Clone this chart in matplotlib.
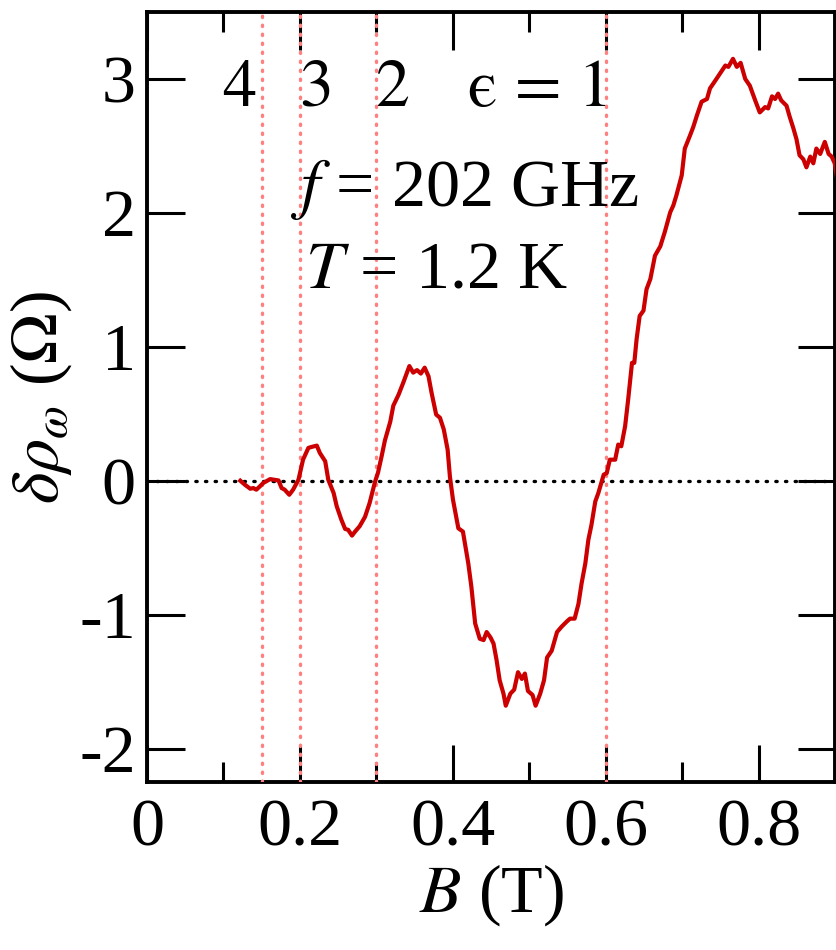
import matplotlib
matplotlib.use("Agg")
import matplotlib.pyplot as plt
from matplotlib.ticker import MultipleLocator

plt.rcParams["font.family"] = ["Liberation Serif", "DejaVu Serif"]
plt.rcParams["mathtext.fontset"] = "stix"

# Magnetic field (T) and photoresistance signal (Ohm)
field_T = [
    0.122, 0.128, 0.135, 0.139, 0.143, 0.148, 0.152, 0.161, 0.167, 0.172,
    0.176, 0.180, 0.186, 0.191, 0.198, 0.204, 0.211, 0.215, 0.222, 0.226,
    0.233, 0.237, 0.244, 0.248, 0.254, 0.259, 0.263, 0.268, 0.272, 0.278,
    0.285, 0.291, 0.298, 0.302, 0.307, 0.311, 0.318, 0.322, 0.329, 0.335,
    0.339, 0.343, 0.348, 0.353, 0.358, 0.363, 0.368, 0.372, 0.378, 0.383,
    0.388, 0.393, 0.396, 0.400, 0.407, 0.413, 0.420, 0.424, 0.429, 0.435,
    0.440, 0.444, 0.449, 0.453, 0.457, 0.461, 0.466, 0.469, 0.475, 0.480,
    0.485, 0.490, 0.494, 0.498, 0.504, 0.508, 0.514, 0.519, 0.523, 0.529,
    0.536, 0.542, 0.549, 0.553, 0.559, 0.564, 0.568, 0.573, 0.577, 0.581,
    0.586, 0.590, 0.597, 0.601, 0.605, 0.612, 0.616, 0.620, 0.625, 0.629,
    0.634, 0.637, 0.640, 0.644, 0.649, 0.653, 0.658, 0.664, 0.671, 0.677,
    0.684, 0.688, 0.692, 0.699, 0.703, 0.710, 0.714, 0.719, 0.725, 0.732,
    0.736, 0.742, 0.749, 0.756, 0.760, 0.766, 0.771, 0.776, 0.782, 0.788,
    0.795, 0.801, 0.808, 0.812, 0.817, 0.821, 0.825, 0.829, 0.836, 0.840,
    0.845, 0.849, 0.853, 0.858, 0.862, 0.867, 0.871, 0.875, 0.880, 0.886,
    0.891, 0.895, 0.899, 0.905,
]
delta_rho = [
    0.000, -0.030, -0.060, -0.055, -0.067, -0.040, -0.017, 0.012, 0.007, 0.002,
    -0.055, -0.067, -0.105, -0.067, 0.007, 0.157, 0.245, 0.252, 0.262, 0.207,
    0.145, 0.007, -0.092, -0.190, -0.290, -0.360, -0.367, -0.410, -0.380, -0.340,
    -0.270, -0.167, -0.010, 0.060, 0.190, 0.300, 0.440, 0.560, 0.644, 0.732,
    0.794, 0.856, 0.807, 0.826, 0.800, 0.844, 0.780, 0.657, 0.494, 0.470,
    0.382, 0.232, 0.030, -0.142, -0.355, -0.380, -0.617, -0.790, -1.066, -1.180,
    -1.190, -1.130, -1.170, -1.216, -1.340, -1.490, -1.590, -1.680, -1.590, -1.560,
    -1.430, -1.480, -1.440, -1.570, -1.600, -1.680, -1.590, -1.490, -1.320, -1.270,
    -1.130, -1.090, -1.050, -1.030, -1.030, -0.920, -0.770, -0.617, -0.440, -0.330,
    -0.155, -0.092, 0.045, 0.057, 0.157, 0.157, 0.270, 0.257, 0.407, 0.607,
    0.880, 0.880, 1.056, 1.230, 1.270, 1.430, 1.506, 1.680, 1.750, 1.860,
    2.005, 2.055, 2.130, 2.280, 2.480, 2.580, 2.640, 2.730, 2.830, 2.850,
    2.930, 2.980, 3.040, 3.100, 3.090, 3.150, 3.090, 3.120, 3.000, 2.950,
    2.840, 2.750, 2.790, 2.780, 2.870, 2.850, 2.890, 2.840, 2.800, 2.720,
    2.630, 2.550, 2.430, 2.400, 2.340, 2.420, 2.370, 2.480, 2.440, 2.530,
    2.440, 2.420, 2.370, 2.150,
]

# Cyclotron harmonics B = B1 / epsilon
harmonic_B = [0.15, 0.2, 0.3, 0.6]
harmonic_labels = ["4", "3", "2", "\u03f5 = 1"]
harmonic_label_x = [0.120, 0.221, 0.321, 0.514]

x_ticks = [0, 0.2, 0.4, 0.6, 0.8]
x_tick_labels = ["0", "0.2", "0.4", "0.6", "0.8"]
y_ticks = [-2, -1, 0, 1, 2, 3]
y_tick_labels = ["-2", "-1", "0", "1", "2", "3"]

fig = plt.figure(figsize=(8.36, 9.5), dpi=100)
ax = fig.add_axes([0.1758, 0.1768, 0.8236, 0.8106])

ax.axhline(0, color="black", lw=2.4, linestyle=(0, (0.4, 2.5)),
           dash_capstyle="round", zorder=1)
for b in harmonic_B:
    ax.axvline(b, color="#ff8080", lw=2.4, linestyle=(0, (0.4, 2.3)),
               dash_capstyle="round", zorder=3)

ax.plot(field_T, delta_rho, color="#cc0000", lw=3.0, zorder=4)

for lab, xl in zip(harmonic_labels, harmonic_label_x):
    ax.text(xl, 2.80, lab, fontsize=49, ha="center", va="baseline",
            family=["STIXGeneral", "Liberation Serif", "DejaVu Serif"])
ax.text(0.187, 2.05, r"$f$ = 202 GHz", fontsize=49, ha="left", va="baseline")
ax.text(0.206, 1.445, r"$T$ = 1.2 K", fontsize=49, ha="left", va="baseline")

ax.set_xlim(0, 0.9)
ax.set_ylim(-2.25, 3.5)
ax.set_xticks(x_ticks)
ax.set_xticklabels(x_tick_labels)
ax.set_yticks(y_ticks)
ax.set_yticklabels(y_tick_labels)
ax.xaxis.set_minor_locator(MultipleLocator(0.1))

ax.tick_params(axis="both", which="major", direction="in", length=27, width=2.2,
               labelsize=49, top=True, right=True)
ax.tick_params(axis="x", which="minor", direction="in", length=14.5, width=2.2,
               top=True)
ax.tick_params(axis="x", which="major", pad=12)
ax.tick_params(axis="y", which="major", pad=8)

for sp in ax.spines.values():
    sp.set_linewidth(2.8)

ax.set_xlabel(r"$B$ (T)", fontsize=49, labelpad=2)
ax.set_ylabel(r"$\delta\rho_\omega$ ($\Omega$)", fontsize=49, labelpad=4)

fig.savefig("out.png", dpi=100)
